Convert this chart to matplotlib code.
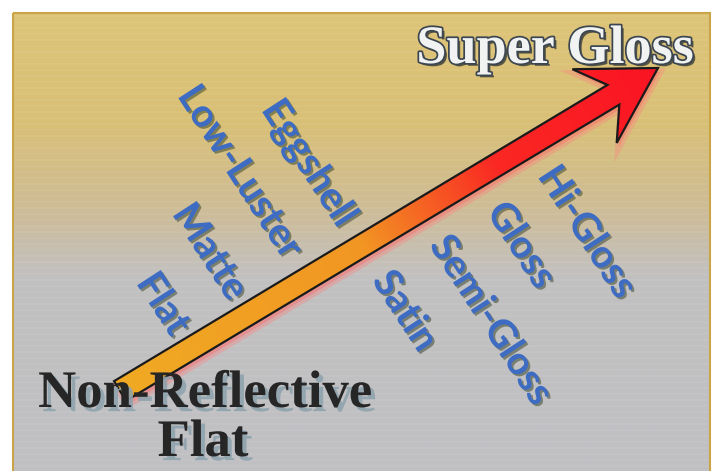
import numpy as np
import matplotlib
matplotlib.use("Agg")
import matplotlib.pyplot as plt
import matplotlib.patheffects as pe
from matplotlib.patches import Polygon, Rectangle

# Niveles de brillo (de menos a más) y posición del centro de cada etiqueta
niveles = ["Flat", "Matte", "Low-Luster", "Eggshell", "Satin", "Semi-Gloss", "Gloss", "Hi-Gloss"]
niveles_x = [163, 210, 240, 309, 405, 491, 521, 587]
niveles_y = [304, 252, 172, 163, 311, 320, 245, 232]

extremo_bajo = ["Non-Reflective", "Flat"]
extremo_alto = "Super Gloss"

# Flecha: cola y punta
flecha_x = [120, 658]
flecha_y = [391, 68]

W, H = 716, 471
fig = plt.figure(figsize=(W / 100, H / 100), dpi=100)
ax = fig.add_axes([0, 0, 1, 1])
ax.set_xlim(0, W)
ax.set_ylim(H, 0)
ax.axis("off")
fig.patch.set_facecolor("white")

# Fondo con degradado dorado -> gris
filas = np.arange(H)
paradas = [0, 110, 200, 270, H]
r = np.interp(filas, paradas, [222, 217, 206, 194, 192])
g = np.interp(filas, paradas, [196, 192, 188, 192, 192])
b = np.interp(filas, paradas, [120, 118, 150, 192, 196])
fondo = np.stack([r, g, b], axis=1)[:, None, :] / 255.0
fondo = np.repeat(fondo, 2, axis=1)
ax.imshow(fondo, extent=[13, 710, H, 13], aspect="auto", zorder=0)
# textura de rayas horizontales suaves
for yy in range(16, H, 6):
    ax.plot([13, 710], [yy, yy], color="white", alpha=0.06, lw=1.2, zorder=1)
ax.add_patch(Rectangle((13, 13), 697, H, fill=False, edgecolor="#c9a548", lw=1.5, zorder=2))

# Geometría de la flecha en coordenadas locales (a lo largo, perpendicular)
x0, y0 = flecha_x[0], flecha_y[0]
dx, dy = flecha_x[1] - x0, flecha_y[1] - y0
L = np.hypot(dx, dy)
u = np.array([dx, dy]) / L
n = np.array([-u[1], u[0]])
w = 11.5
local = [(0, -w), (L - 52, -w), (L - 74, -43), (L, 0), (L - 74, 43), (L - 52, w), (0, w)]
pts = np.array([[x0, y0] + a * u + p * n for a, p in local])

# sombra rojiza
sombra = Polygon(pts + [2, 4], closed=True, facecolor="#ff5050", edgecolor="#ff8080",
                 lw=5, alpha=0.35, zorder=3)
ax.add_patch(sombra)

# relleno en degradado naranja -> rojo
gx, gy = np.meshgrid(np.arange(0, W), np.arange(0, H))
t = ((gx - x0) * u[0] + (gy - y0) * u[1]) / L
t = np.clip(t, 0, 1)
c_r = np.interp(t, [0, 0.45, 0.7, 1], [240, 242, 250, 250])
c_g = np.interp(t, [0, 0.45, 0.7, 1], [170, 150, 40, 20])
c_b = np.interp(t, [0, 0.45, 0.7, 1], [35, 35, 35, 35])
grad = np.stack([c_r, c_g, c_b], axis=2) / 255.0
img = ax.imshow(grad, extent=[0, W, H, 0], aspect="auto", zorder=4)
cuerpo = Polygon(pts, closed=True, facecolor="none", edgecolor="#1a1a1a", lw=1.6, zorder=5)
ax.add_patch(cuerpo)
img.set_clip_path(cuerpo)

# Etiquetas de nivel
efecto_azul = [pe.SimplePatchShadow(offset=(1.5, -1.5), shadow_rgbFace="#3c4a30", alpha=0.55),
               pe.Normal()]
for nombre, cx, cy in zip(niveles, niveles_x, niveles_y):
    ax.text(cx, cy, nombre, rotation=-57, rotation_mode="anchor", ha="center", va="center",
            fontsize=28, fontweight="bold", family="Lato", color="#3d6cc2",
            path_effects=efecto_azul, zorder=6)

# Extremos
ax.text(555, 50, extremo_alto, ha="center", va="center", fontsize=39, fontweight="bold",
        family="Liberation Serif", color="#f1f3f3", zorder=7,
        path_effects=[pe.SimplePatchShadow(offset=(2, -2), shadow_rgbFace="#1e262c", alpha=0.7),
                      pe.withStroke(linewidth=2.5, foreground="#3c4650")])

efecto_negro = [pe.SimplePatchShadow(offset=(3, -3), shadow_rgbFace="#8fa3ad", alpha=0.9), pe.Normal()]
ax.text(205, 394, extremo_bajo[0], ha="center", va="center", fontsize=38, fontweight="bold",
        family="Liberation Serif", color="#262626", path_effects=efecto_negro, zorder=7)
ax.text(203, 443, extremo_bajo[1], ha="center", va="center", fontsize=38, fontweight="bold",
        family="Liberation Serif", color="#262626", path_effects=efecto_negro, zorder=7)

plt.savefig("out.png", dpi=100)
plt.close()
